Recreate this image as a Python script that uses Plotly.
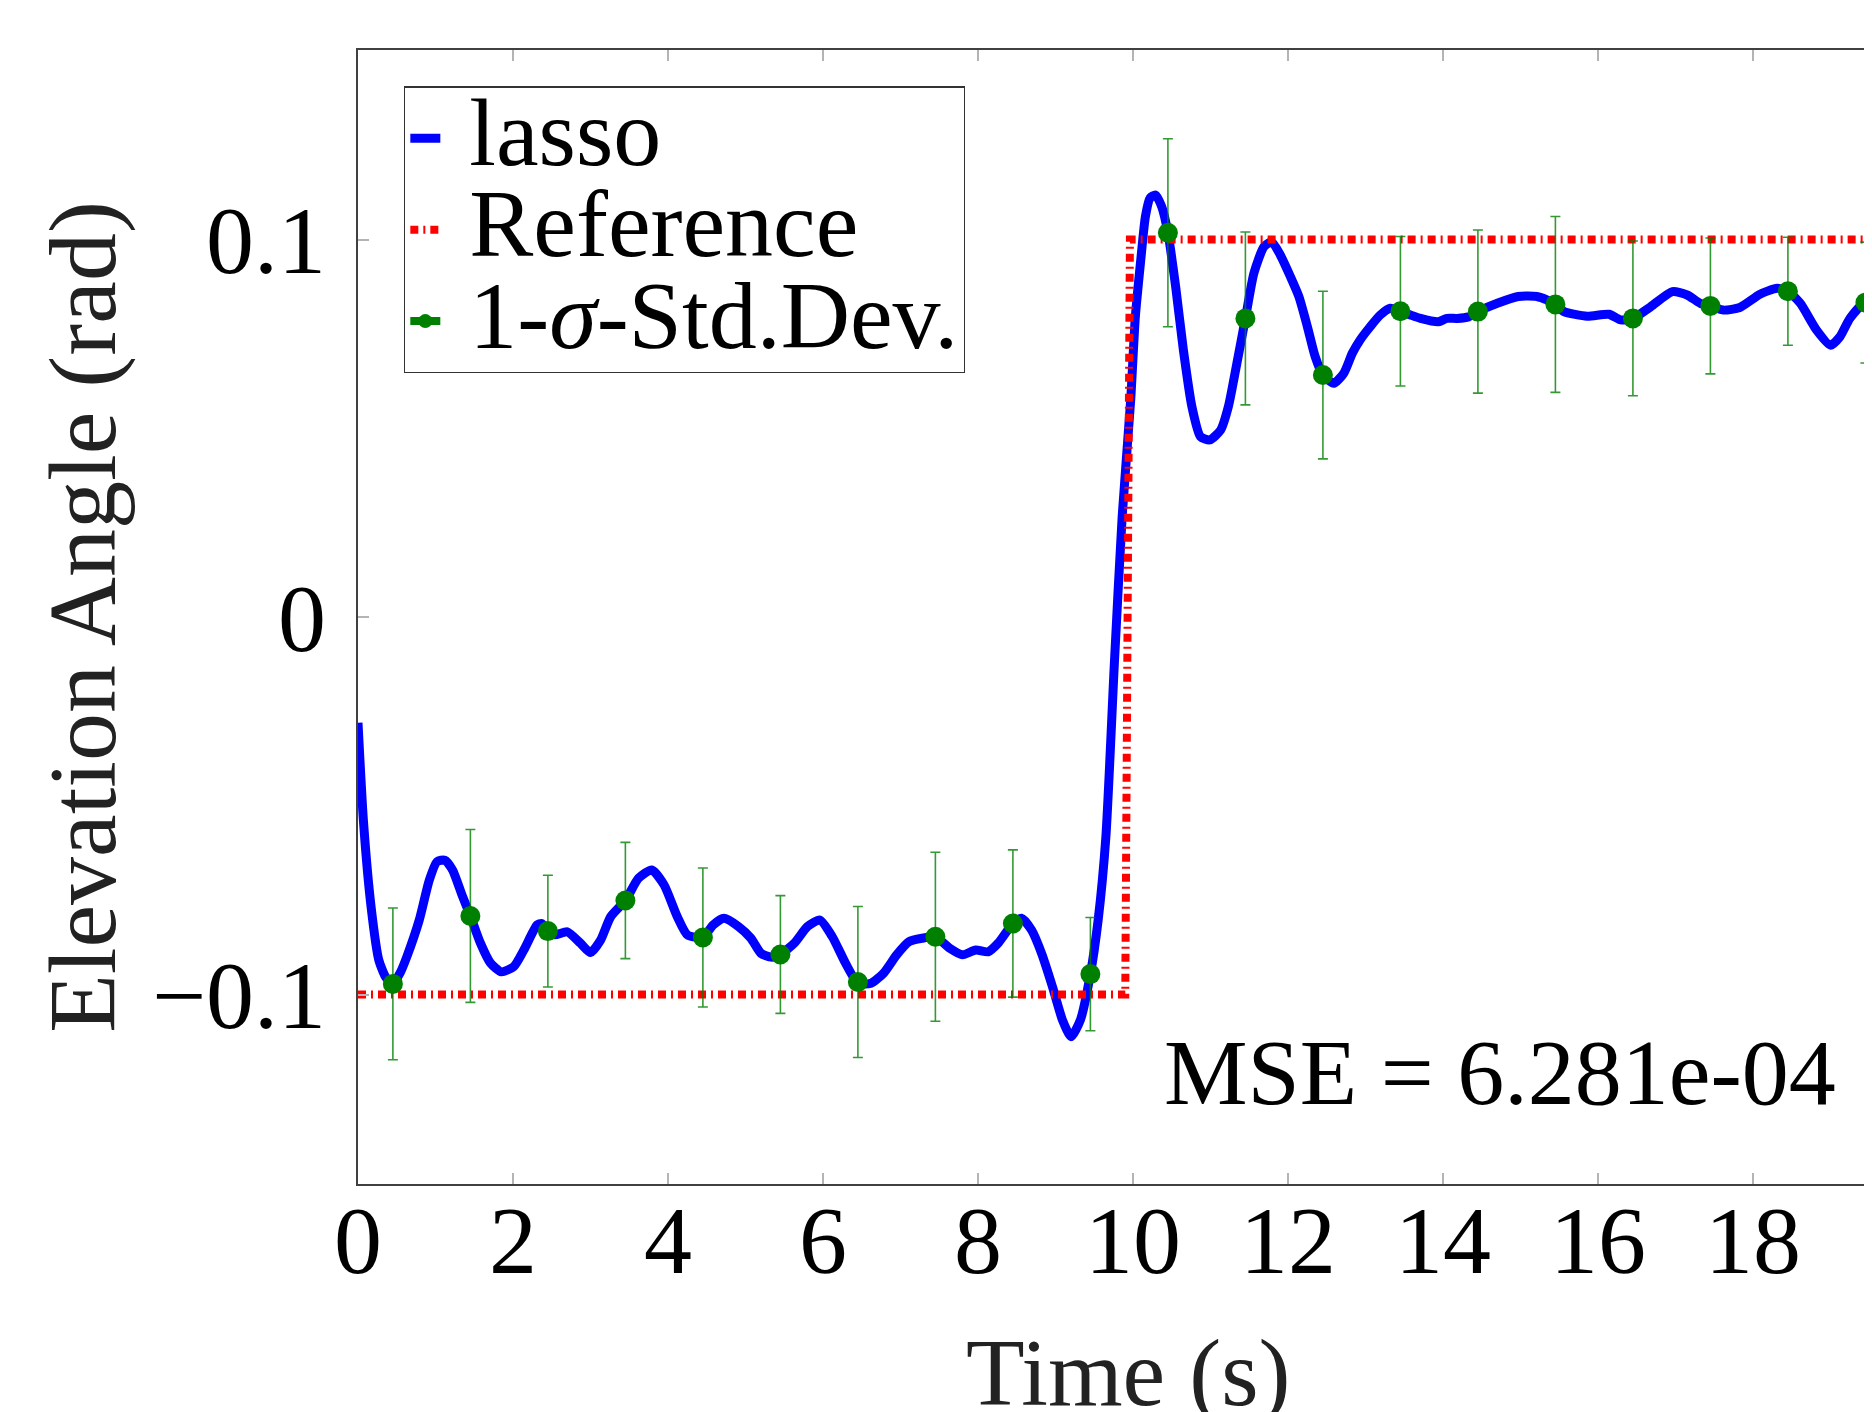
import plotly.graph_objects as go

# ---------------- data ----------------
lasso_t = [0.00, 0.07, 0.17, 0.27, 0.36, 0.45, 0.55, 0.63, 0.79, 0.92, 1.02, 1.12, 1.22, 1.35,
           1.45, 1.58, 1.71, 1.85, 2.01, 2.14, 2.31, 2.37, 2.45, 2.54, 2.70, 2.87, 3.00, 3.13,
           3.26, 3.45, 3.62, 3.79, 3.95, 4.12, 4.25, 4.45, 4.58, 4.72, 4.91, 5.07, 5.20, 5.33,
           5.45, 5.63, 5.80, 5.96, 6.12, 6.29, 6.45, 6.62, 6.78, 6.95, 7.11, 7.28, 7.45, 7.64,
           7.80, 7.97, 8.13, 8.26, 8.45, 8.56, 8.69, 8.82, 8.96, 9.09, 9.20, 9.32, 9.45, 9.55,
           9.65, 9.76, 9.86, 9.97, 10.03, 10.10, 10.16, 10.22, 10.29, 10.37, 10.45, 10.55, 10.65,
           10.76, 10.87, 10.99, 11.13, 11.23, 11.34, 11.45, 11.56, 11.69, 11.79, 11.90, 12.03,
           12.14, 12.25, 12.35, 12.45, 12.59, 12.72, 12.83, 12.93, 13.06, 13.19, 13.32, 13.45,
           13.58, 13.71, 13.94, 14.05, 14.18, 14.33, 14.45, 14.70, 14.97, 15.21, 15.34, 15.45,
           15.56, 15.86, 16.14, 16.29, 16.45, 16.68, 16.96, 17.15, 17.32, 17.45, 17.62, 17.83,
           18.09, 18.31, 18.45, 18.61, 18.82, 19.00, 19.12, 19.25, 19.45, 19.60]
lasso_y = [-0.0280, -0.0540, -0.0770, -0.0910, -0.0955, -0.0972, -0.0940, -0.0900, -0.0803,
           -0.0697, -0.0648, -0.0644, -0.0670, -0.0741, -0.0792, -0.0864, -0.0917, -0.0940,
           -0.0926, -0.0882, -0.0816, -0.0812, -0.0832, -0.0842, -0.0834, -0.0864, -0.0889,
           -0.0856, -0.0794, -0.0751, -0.0692, -0.0670, -0.0710, -0.0794, -0.0842, -0.0849,
           -0.0816, -0.0798, -0.0820, -0.0851, -0.0891, -0.0901, -0.0894, -0.0864, -0.0820,
           -0.0803, -0.0847, -0.0917, -0.0970, -0.0970, -0.0944, -0.0895, -0.0860, -0.0851,
           -0.0847, -0.0878, -0.0895, -0.0882, -0.0887, -0.0864, -0.0812, -0.0798, -0.0829,
           -0.0891, -0.0979, -0.1068, -0.1112, -0.1068, -0.0946, -0.0803, -0.0582, -0.0120,
           0.0266, 0.0575, 0.0795, 0.0946, 0.1061, 0.1110, 0.1118, 0.1087, 0.1018, 0.0875,
           0.0707, 0.0557, 0.0478, 0.0469, 0.0495, 0.0557, 0.0672, 0.0791, 0.0911, 0.0981,
           0.0994, 0.0959, 0.0902, 0.0849, 0.0769, 0.0690, 0.0641, 0.0619, 0.0646, 0.0699,
           0.0734, 0.0769, 0.0800, 0.0818, 0.0810, 0.0800, 0.0791, 0.0782, 0.0791, 0.0791,
           0.0795, 0.0809, 0.0831, 0.0849, 0.0849, 0.0840, 0.0828, 0.0809, 0.0797, 0.0802,
           0.0787, 0.0791, 0.0822, 0.0862, 0.0853, 0.0831, 0.0824, 0.0813, 0.0820, 0.0855,
           0.0871, 0.0863, 0.0831, 0.0760, 0.0720, 0.0742, 0.0791, 0.0833, 0.0770]

ref_t = [0.0, 9.90, 9.96, 19.6]
ref_y = [-0.1, -0.1, 0.1, 0.1]

std_t = [0.45, 1.45, 2.45, 3.45, 4.45, 5.45, 6.45, 7.45, 8.45, 9.45,
         10.45, 11.45, 12.45, 13.45, 14.45, 15.45, 16.45, 17.45, 18.45, 19.45]
std_y = [-0.0972, -0.0792, -0.0832, -0.0751, -0.0849, -0.0894, -0.0967, -0.0847, -0.0812, -0.0946,
         0.1018, 0.0791, 0.0641, 0.0810, 0.0809, 0.0828, 0.0791, 0.0824, 0.0863, 0.0833]
std_err = [0.0201, 0.0229, 0.0148, 0.0154, 0.0184, 0.0156, 0.0200, 0.0224, 0.0195, 0.0150,
           0.0249, 0.0229, 0.0222, 0.0198, 0.0216, 0.0233, 0.0205, 0.0180, 0.0143, 0.0160]

x_ticks = [0, 2, 4, 6, 8, 10, 12, 14, 16, 18]
y_ticks = [-0.1, 0, 0.1]
y_ticktext = ["\u22120.1", "0", "0.1"]

x_title = "Time (s)"
y_title = "Elevation Angle (rad)"
mse_text = "MSE = 6.281e-04"

# ---------------- figure ----------------
FONT = "Liberation Serif"
BIG = 96

def big(s):
    return "<span style='font-size:%dpx'> %s</span>" % (BIG, s)

fig = go.Figure()
fig.add_trace(go.Scatter(
    x=lasso_t, y=lasso_y, mode="lines", name=big("lasso"),
    line=dict(color="#0000ff", width=9, shape="spline", smoothing=0.6)))
fig.add_trace(go.Scatter(
    x=ref_t, y=ref_y, mode="lines", name=big("Reference"),
    line=dict(color="#ff0000", width=8, dash="8px,5px,2px,5px")))
fig.add_trace(go.Scatter(
    x=std_t, y=std_y, mode="markers", showlegend=False,
    marker=dict(color="#008000", size=20),
    error_y=dict(type="data", array=std_err, visible=True,
                 color="rgba(0,128,0,0.8)", thickness=1.6, width=5)))
fig.add_trace(go.Scatter(
    x=[None], y=[None], mode="lines+markers", name=big("1-<i>\u03c3</i>-Std.Dev."),
    line=dict(color="#008000", width=8), marker=dict(color="#008000", size=14)))

fig.add_annotation(x=14.73, y=-0.1204, xref="x", yref="y", text=mse_text,
                   showarrow=False, xanchor="center", yanchor="middle",
                   font=dict(family=FONT, size=94, color="black"))

# x-axis title placed as a paper annotation so it can sit partly below the page edge,
# as in the reference (which is cropped through the title)
fig.add_annotation(x=0.5086, y=-0.1662, xref="paper", yref="paper", text=x_title,
                   showarrow=False, xanchor="center", yanchor="middle",
                   font=dict(family=FONT, size=BIG, color="#222222"))

# the page body adds an 8px margin, so the figure is 8px smaller than the window
fig.update_layout(
    width=1864, height=1404,
    margin=dict(l=350, r=0, t=42, b=228, autoexpand=False),
    plot_bgcolor="white", paper_bgcolor="white",
    font=dict(family=FONT, size=BIG, color="black"),
    showlegend=True,
    legend=dict(x=0.0304, y=0.968, xanchor="left", yanchor="top",
                bgcolor="white", bordercolor="#333333", borderwidth=1.3,
                font=dict(family=FONT, size=68, color="black"), tracegroupgap=0),
)
fig.update_xaxes(
    range=[0, 19.535], tickvals=x_ticks, ticks="inside", ticklen=11, tickwidth=1.5,
    tickcolor="#b4b4b4", showline=True, linecolor="#404040", linewidth=1.5,
    mirror="ticks", showgrid=False, zeroline=False, automargin=False,
    tickfont=dict(family=FONT, size=BIG, color="black"), ticklabelstandoff=-28)
fig.update_yaxes(
    range=[-0.1502, 0.1502], tickvals=y_ticks, ticktext=y_ticktext, ticks="inside",
    ticklen=11, tickwidth=1.5, tickcolor="#b4b4b4", showline=True, linecolor="#404040",
    linewidth=1.5, mirror=False, showgrid=False, zeroline=False, automargin=False,
    tickfont=dict(family=FONT, size=BIG, color="black"), ticklabelstandoff=11,
    title=dict(text=y_title, font=dict(family=FONT, size=BIG, color="#222222"),
               standoff=4))

fig.write_html("out.html")
